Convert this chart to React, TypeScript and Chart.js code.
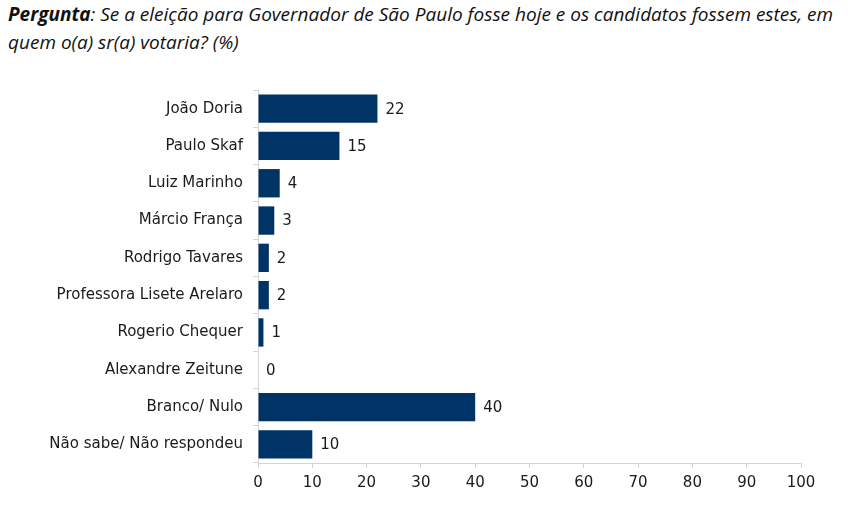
import React, { useEffect, useRef } from "react";
import { Chart, registerables } from "chart.js";

Chart.register(...registerables);

const categories = [
  "João Doria",
  "Paulo Skaf",
  "Luiz Marinho",
  "Márcio França",
  "Rodrigo Tavares",
  "Professora Lisete Arelaro",
  "Rogerio Chequer",
  "Alexandre Zeitune",
  "Branco/ Nulo",
  "Não sabe/ Não respondeu",
];
const values = [22, 15, 4, 3, 2, 2, 1, 0, 40, 10];
const axisMin = 0;
const axisMax = 100;
const axisStep = 10;

const BAR_COLOR = "#003366";
const FONT = "'DejaVu Sans', Verdana, sans-serif";

const valueLabelPlugin = {
  id: "valueLabels",
  afterDatasetsDraw(chart: any) {
    const ctx = chart.ctx;
    const meta = chart.getDatasetMeta(0);
    ctx.save();
    ctx.font = `15px ${FONT}`;
    ctx.fillStyle = "#1a1a1a";
    ctx.textAlign = "left";
    ctx.textBaseline = "middle";
    meta.data.forEach((bar: any, i: number) => {
      ctx.fillText(String(values[i]), bar.x + 8, bar.y + 1);
    });
    ctx.restore();
  },
};

export default function App() {
  const ref = useRef<HTMLCanvasElement>(null);
  useEffect(() => {
    if (!ref.current) return;
    const chart = new Chart(ref.current, {
      type: "bar",
      data: {
        labels: categories,
        datasets: [
          {
            data: values,
            backgroundColor: BAR_COLOR,
            borderWidth: 0,
            barPercentage: 0.76,
            categoryPercentage: 1,
          },
        ],
      },
      options: {
        indexAxis: "y",
        animation: false,
        responsive: false,
        maintainAspectRatio: false,
        layout: { padding: { top: 30, right: 60, left: 0, bottom: 0 } },
        plugins: {
          legend: { display: false },
          tooltip: { enabled: false },
          title: { display: false },
        },
        scales: {
          x: {
            min: axisMin,
            max: axisMax,
            ticks: {
              stepSize: axisStep,
              color: "#1a1a1a",
              font: { family: FONT, size: 15 },
              padding: 6,
            },
            grid: {
              drawOnChartArea: false,
              color: "#d4d4d4",
              tickLength: 5,
            },
            border: { color: "#d4d4d4" },
            afterFit(scale: any) {
              scale.height = 50;
            },
          },
          y: {
            ticks: {
              color: "#1a1a1a",
              font: { family: FONT, size: 15 },
              padding: 10,
            },
            grid: {
              drawOnChartArea: false,
              color: "#d4d4d4",
              tickLength: 5,
              offset: true,
            },
            border: { color: "#d4d4d4" },
            afterFit(scale: any) {
              scale.width = 258;
            },
          },
        },
      },
      plugins: [valueLabelPlugin],
    });
    return () => chart.destroy();
  }, []);

  return (
    <div
      style={{
        position: "absolute",
        left: 0,
        top: 0,
        width: 861,
        height: 513,
        background: "#fff",
      }}
    >
      <div
        style={{
          position: "absolute",
          left: 8,
          top: 0,
          width: 853,
          whiteSpace: "nowrap",
          fontFamily: "'Open Sans', Lato, sans-serif",
          fontStyle: "italic",
          fontSize: 19,
          lineHeight: "28px",
          color: "#111",
        }}
      >
        <b>Pergunta</b>: Se a eleição para Governador de São Paulo fosse hoje e os candidatos fossem estes, em
        <br />
        quem o(a) sr(a) votaria? (%)
      </div>
      <canvas
        ref={ref}
        width={861}
        height={453}
        style={{ position: "absolute", left: 0, top: 60, width: 861, height: 453 }}
      />
    </div>
  );
}
